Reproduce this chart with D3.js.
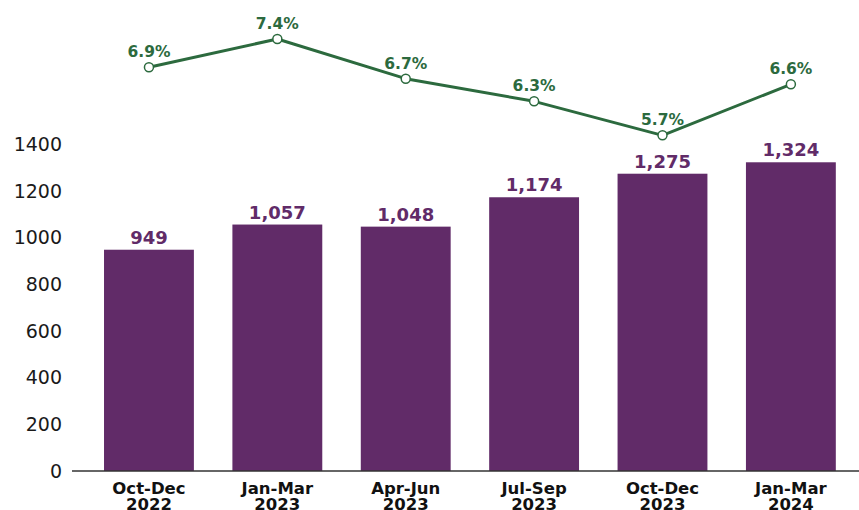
<!DOCTYPE html>
<html>
<head>
<meta charset="utf-8">
<script src="https://cdn.jsdelivr.net/npm/d3@7"></script>
<style>
  body { margin: 0; background: #fff; }
  svg { display: block; font-family: 'DejaVu Sans', sans-serif; }
</style>
</head>
<body>
<div id="chart"></div>
<script>
const quarters = ['Oct-Dec', 'Jan-Mar', 'Apr-Jun', 'Jul-Sep', 'Oct-Dec', 'Jan-Mar']
const years = ['2022', '2023', '2023', '2023', '2023', '2024']
const counts = [949, 1057, 1048, 1174, 1275, 1324]
const rates = [6.9, 7.4, 6.7, 6.3, 5.7, 6.6]
const yTicks = [0, 200, 400, 600, 800, 1000, 1200, 1400]

const purple = '#612b68'
const green = '#2c6a3e'

const W = 859
const H = 510
const margin = { top: 0, right: 0, bottom: 39, left: 72 }
const width = W - margin.left - margin.right
const height = H - margin.top - margin.bottom

const labels = quarters.map((q, i) => `${q} ${years[i]}`)
const rows = counts.map((c, i) => ({ key: i, quarter: quarters[i], year: years[i], count: c, rate: rates[i] }))

const x = d3.scaleBand().domain(d3.range(rows.length)).range([0, width]).paddingInner(0.3).paddingOuter(0.215).align(0.58)
const y = d3.scaleLinear().domain([0, 2020]).range([height, 0])
const yRate = d3.scaleLinear().domain([5, 8]).range([175, 5])

const svg = d3.select('#chart').append('svg').attr('width', W).attr('height', H)
const g = svg.append('g').attr('transform', `translate(${margin.left},${margin.top})`)

// y axis, labels only
g.append('g')
  .call(d3.axisLeft(y).tickValues(yTicks).tickFormat(d3.format('d')).tickSize(0).tickPadding(10))
  .call(g => g.select('.domain').remove())
  .call(g => g.selectAll('text').attr('font-size', 19).attr('fill', '#1a1a1a').attr('font-family', 'DejaVu Sans'))

// bars
g.selectAll('.bar')
  .data(rows)
  .join('rect')
  .attr('class', 'bar')
  .attr('x', d => x(d.key))
  .attr('width', x.bandwidth())
  .attr('y', d => y(d.count))
  .attr('height', d => height - y(d.count))
  .attr('fill', purple)

g.selectAll('.barLabel')
  .data(rows)
  .join('text')
  .attr('class', 'barLabel')
  .attr('x', d => x(d.key) + x.bandwidth() / 2)
  .attr('y', d => y(d.count) - 6)
  .attr('text-anchor', 'middle')
  .attr('font-size', 18)
  .attr('font-weight', 'bold')
  .attr('fill', purple)
  .text(d => d3.format(',')(d.count))

// x axis
g.append('line')
  .attr('x1', 0)
  .attr('x2', width)
  .attr('y1', height)
  .attr('y2', height)
  .attr('stroke', '#333')
  .attr('stroke-width', 1.5)

const xl = g.selectAll('.xLabel')
  .data(rows)
  .join('text')
  .attr('class', 'xLabel')
  .attr('text-anchor', 'middle')
  .attr('font-size', 16.5)
  .attr('font-weight', 'bold')
  .attr('fill', '#111')
  .attr('transform', d => `translate(${x(d.key) + x.bandwidth() / 2},${height + 22.5})`)
xl.append('tspan').attr('x', 0).attr('y', 0).text(d => d.quarter)
xl.append('tspan').attr('x', 0).attr('y', 16).text(d => d.year)

// rate line
const cx = d => x(d.key) + x.bandwidth() / 2
const line = d3.line().x(cx).y(d => yRate(d.rate))

g.append('path')
  .datum(rows)
  .attr('d', line)
  .attr('fill', 'none')
  .attr('stroke', green)
  .attr('stroke-width', 3)
  .attr('stroke-linejoin', 'round')

g.selectAll('.dot')
  .data(rows)
  .join('circle')
  .attr('class', 'dot')
  .attr('cx', cx)
  .attr('cy', d => yRate(d.rate))
  .attr('r', 4.5)
  .attr('fill', '#fff')
  .attr('stroke', green)
  .attr('stroke-width', 1.5)

g.selectAll('.rateLabel')
  .data(rows)
  .join('text')
  .attr('class', 'rateLabel')
  .attr('x', cx)
  .attr('y', d => yRate(d.rate) - 10)
  .attr('text-anchor', 'middle')
  .attr('font-size', 15.5)
  .attr('font-weight', 'bold')
  .attr('fill', green)
  .text(d => d.rate.toFixed(1) + '%')
</script>
</body>
</html>
